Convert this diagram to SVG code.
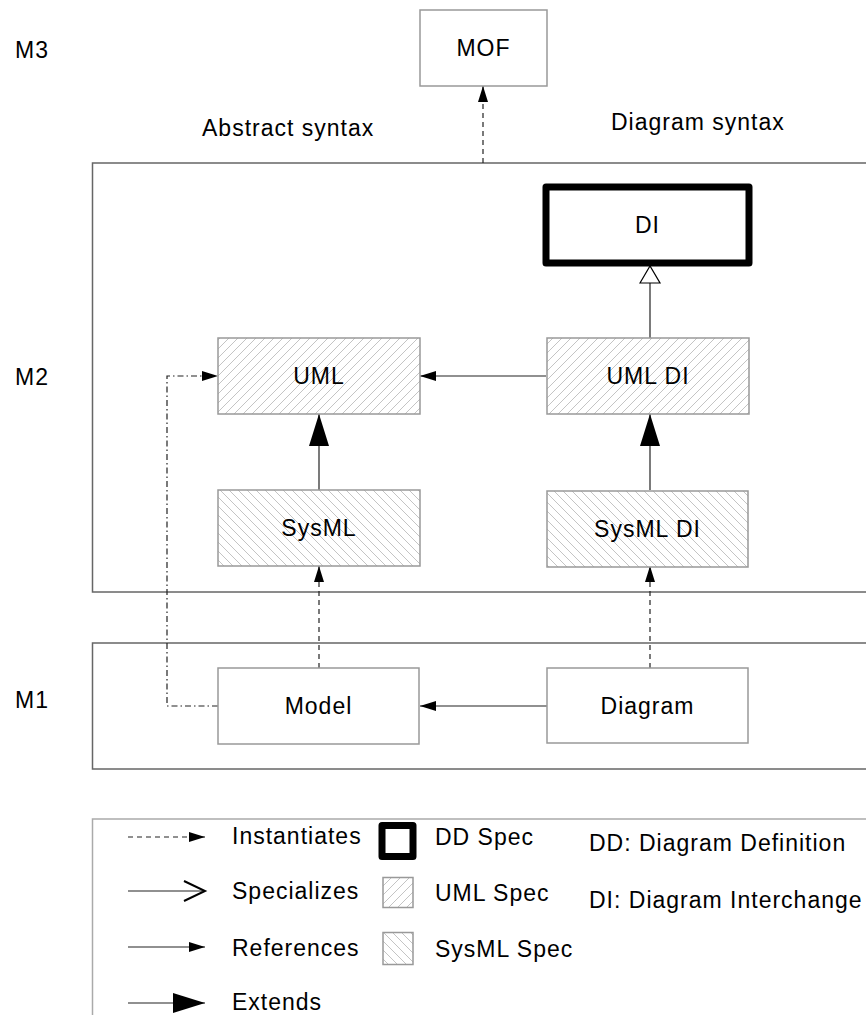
<svg xmlns="http://www.w3.org/2000/svg" width="866" height="1015" viewBox="0 0 866 1015">
<style>
text{font-family:"Liberation Sans",Arial,sans-serif;font-size:23px;letter-spacing:1px;fill:#000}
.c{text-anchor:middle}
.box{fill:#fff;stroke:#999;stroke-width:1.5}
.uml{fill:url(#hUML);stroke:#999;stroke-width:1.5}
.sys{fill:url(#hSys);stroke:#999;stroke-width:1.5}
.dd{fill:#fff;stroke:#000;stroke-width:7;stroke-linejoin:round}
.frame{fill:none;stroke:#666;stroke-width:1.5}
.leg{fill:none;stroke:#aaa;stroke-width:1.5}
.ln{fill:none;stroke:#222;stroke-width:1.2}
.dash{stroke-dasharray:5,4}
.dashdot{stroke-dasharray:6,3,1.5,3}
</style>
<defs>
<pattern id="hUML" patternUnits="userSpaceOnUse" width="9" height="9">
<rect width="9" height="9" fill="#fff"/>
<path d="M-1,10 L10,-1 M-2,2 L2,-2 M7,11 L11,7" stroke="#c4c4c4" stroke-width="1"/>
</pattern>
<pattern id="hSys" patternUnits="userSpaceOnUse" width="9" height="9">
<rect width="9" height="9" fill="#fff"/>
<path d="M-1,-1 L10,10 M-2,7 L2,11 M7,-2 L11,2" stroke="#c4c4c4" stroke-width="1"/>
</pattern>
<marker id="aSmall" markerUnits="userSpaceOnUse" markerWidth="16" markerHeight="10" refX="16" refY="5" orient="auto" overflow="visible">
<path d="M0,0 L16,5 L0,10 z" fill="#000"/>
</marker>
<marker id="aBig" markerUnits="userSpaceOnUse" markerWidth="32" markerHeight="20" refX="32" refY="10" orient="auto" overflow="visible">
<path d="M0,0 L32,10 L0,20 z" fill="#000"/>
</marker>
<marker id="aTri" markerUnits="userSpaceOnUse" markerWidth="17" markerHeight="20" refX="17" refY="10" orient="auto" overflow="visible">
<path d="M0,0 L17,10 L0,20 z" fill="#fff" stroke="#000" stroke-width="1.2"/>
</marker>
</defs>
<rect width="866" height="1015" fill="#fff"/>

<g id="frames">
<rect class="frame" x="92.5" y="163" width="800" height="429"/>
<rect class="frame" x="92.5" y="643" width="800" height="126"/>
</g>

<g id="labels">
<text x="15" y="58">M3</text>
<text x="15" y="385">M2</text>
<text x="15" y="708">M1</text>
<text x="202" y="136">Abstract syntax</text>
<text x="611" y="130">Diagram syntax</text>
</g>

<g id="connectors">
<line class="ln dash" x1="483" y1="163" x2="483" y2="86" marker-end="url(#aSmall)"/>
<line class="ln" x1="650" y1="338" x2="650" y2="266" marker-end="url(#aTri)"/>
<line class="ln" x1="546" y1="376" x2="420" y2="376" marker-end="url(#aSmall)"/>
<line class="ln" x1="319" y1="490" x2="319" y2="414" marker-end="url(#aBig)"/>
<line class="ln" x1="650" y1="490" x2="650" y2="414" marker-end="url(#aBig)"/>
<line class="ln dash" x1="319" y1="668" x2="319" y2="566" marker-end="url(#aSmall)"/>
<line class="ln dash" x1="650" y1="668" x2="650" y2="566" marker-end="url(#aSmall)"/>
<polyline class="ln dashdot" points="218,706 167,706 167,376 218,376" marker-end="url(#aSmall)"/>
<line class="ln" x1="547" y1="706" x2="420" y2="706" marker-end="url(#aSmall)"/>
</g>

<g id="MOF"><rect class="box" x="420" y="10" width="127" height="76"/><text class="c" x="483.5" y="56">MOF</text></g>
<g id="DI"><rect class="dd" x="546" y="187" width="203" height="76"/><text class="c" x="647.5" y="233">DI</text></g>
<g id="UML"><rect class="uml" x="218" y="338" width="202" height="76"/><text class="c" x="319" y="384">UML</text></g>
<g id="UMLDI"><rect class="uml" x="547" y="338" width="202" height="76"/><text class="c" x="648" y="384">UML DI</text></g>
<g id="SysML"><rect class="sys" x="218" y="490" width="202" height="76"/><text class="c" x="319" y="536">SysML</text></g>
<g id="SysMLDI"><rect class="sys" x="547" y="491" width="201" height="76"/><text class="c" x="647.5" y="537">SysML DI</text></g>
<g id="Model"><rect class="box" x="218" y="668" width="201" height="76"/><text class="c" x="318.5" y="714">Model</text></g>
<g id="Diagram"><rect class="box" x="547" y="668" width="201" height="75"/><text class="c" x="647.5" y="714">Diagram</text></g>

<g id="legend">
<rect class="leg" x="92.5" y="819" width="800" height="220"/>
<line class="ln dash" x1="128" y1="837" x2="205" y2="837" marker-end="url(#aSmall)" stroke-dasharray="4,3"/>
<text x="232" y="844">Instantiates</text>
<line class="ln" x1="128" y1="891" x2="204" y2="891"/>
<path d="M184,881 L205,891 L184,901" fill="none" stroke="#000" stroke-width="2"/>
<text x="232" y="899">Specializes</text>
<line class="ln" x1="128" y1="947" x2="205" y2="947" marker-end="url(#aSmall)"/>
<text x="232" y="956">References</text>
<line class="ln" x1="128" y1="1003" x2="205" y2="1003" marker-end="url(#aBig)"/>
<text x="232" y="1010">Extends</text>
<rect class="dd" x="382" y="825.5" width="31" height="31"/>
<text x="435" y="845">DD Spec</text>
<rect class="uml" x="383" y="877.5" width="30" height="30"/>
<text x="435" y="901">UML Spec</text>
<rect class="sys" x="383" y="932.5" width="30" height="32"/>
<text x="435" y="957">SysML Spec</text>
<text x="589" y="851">DD: Diagram Definition</text>
<text x="589" y="908">DI: Diagram Interchange</text>
</g>
</svg>
